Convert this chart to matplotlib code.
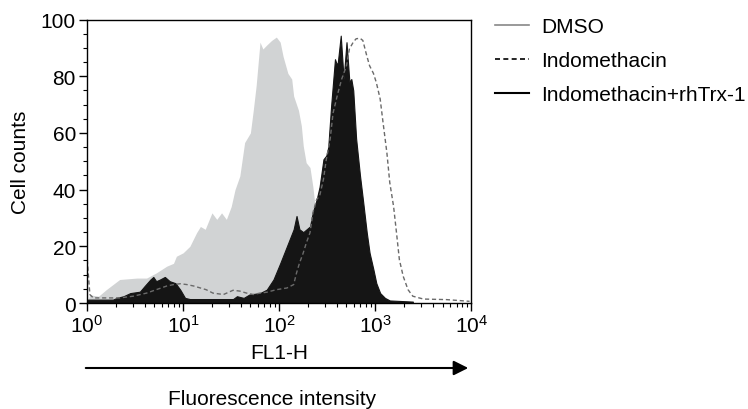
import numpy as np
import matplotlib
matplotlib.use("Agg")
import matplotlib.pyplot as plt
from matplotlib.lines import Line2D
from matplotlib.ticker import LogLocator, MultipleLocator

plt.rcParams['font.family'] = ['Liberation Sans', 'DejaVu Sans']
plt.rcParams['font.size'] = 15

# histogram outlines: log10(FL1-H) and cell counts
dmso_log = [0.0, 0.03, 0.12, 0.20, 0.34, 0.52, 0.62, 0.72, 0.83, 0.90, 0.93, 1.00, 1.07,
            1.14, 1.18, 1.23, 1.30, 1.35, 1.40, 1.45, 1.50, 1.54, 1.59, 1.64, 1.70,
            1.73, 1.76, 1.80, 1.83, 1.87, 1.92, 1.97, 2.01, 2.04, 2.09, 2.13, 2.15,
            2.20, 2.23, 2.25, 2.28, 2.32, 2.35, 2.37, 2.42, 2.49, 2.56]
dmso_cnt = [0.0, 2.9, 2.4, 4.7, 8.3, 8.8, 8.8, 10.6, 13.0, 14.0, 16.5, 17.7, 20.0,
            24.8, 27.0, 26.0, 31.8, 29.5, 31.8, 29.5, 34.0, 40.0, 44.8, 56.6, 60.0,
            68.0, 76.7, 92.0, 89.6, 91.0, 92.6, 93.8, 92.0, 87.0, 81.0, 79.0, 73.0,
            68.0, 62.5, 55.4, 49.5, 47.8, 41.0, 35.0, 25.0, 8.0, 0.0]

indo_log = [0.0, 0.003, 0.03, 0.066, 0.20, 0.34, 0.48, 0.62, 0.72, 0.83, 0.90, 0.97,
            1.04, 1.11, 1.18, 1.24, 1.31, 1.42, 1.52, 1.59, 1.66, 1.73, 1.80, 1.87,
            1.97, 2.08, 2.15, 2.18, 2.21, 2.25, 2.28, 2.32, 2.35, 2.39, 2.42, 2.46,
            2.49, 2.53, 2.56, 2.61, 2.65, 2.70, 2.73, 2.77, 2.80, 2.84, 2.87, 2.91,
            2.94, 2.98, 3.01, 3.05, 3.08, 3.12, 3.15, 3.19, 3.22, 3.25, 3.29, 3.34,
            3.39, 3.50, 3.74, 3.98]
indo_cnt = [0.0, 15.0, 3.0, 1.8, 1.8, 1.8, 2.4, 3.5, 4.7, 6.0, 6.5, 6.8,
            6.5, 6.0, 5.3, 4.7, 3.5, 3.0, 4.5, 4.2, 3.5, 3.0, 3.5, 3.8,
            4.7, 5.3, 6.5, 10.6, 14.0, 17.7, 21.0, 24.8, 31.8, 36.6, 37.7, 43.6,
            50.7, 57.8, 67.0, 74.0, 79.0, 83.7, 89.6, 92.0, 93.2, 93.4, 92.6, 87.3,
            83.7, 81.0, 77.8, 72.0, 63.7, 53.0, 42.5, 34.0, 24.8, 15.3, 9.4, 4.7,
            2.4, 1.4, 1.2, 0.6]

trx_log = [0.0, 0.27, 0.31, 0.38, 0.45, 0.55, 0.60, 0.66, 0.69, 0.72, 0.76, 0.81,
           0.86, 0.92, 0.97, 1.02, 1.07, 1.30, 1.52, 1.56, 1.63, 1.69, 1.80, 1.87,
           1.94, 2.01, 2.08, 2.15, 2.18, 2.21, 2.25, 2.32, 2.35, 2.39, 2.42, 2.46,
           2.49, 2.51, 2.54, 2.58, 2.60, 2.61, 2.64, 2.67, 2.70, 2.73, 2.75, 2.77,
           2.80, 2.84, 2.87, 2.91, 2.94, 2.98, 3.01, 3.05, 3.10, 3.15, 3.39]
trx_cnt = [1.2, 1.2, 1.8, 2.4, 3.5, 4.0, 6.0, 8.3, 9.2, 7.7, 8.3, 9.2,
           7.7, 7.0, 4.7, 1.8, 1.4, 1.4, 1.4, 2.4, 1.8, 3.0, 3.5, 4.7,
           8.3, 14.0, 20.0, 26.0, 30.7, 26.0, 25.0, 27.0, 32.0, 36.6, 41.0, 50.7,
           52.0, 55.0, 69.6, 86.0, 84.0, 85.0, 94.3, 79.0, 92.0, 78.0, 79.0, 75.0,
           58.0, 45.0, 36.6, 25.0, 17.7, 11.8, 7.0, 3.5, 1.8, 0.9, 0.5]

legend_labels = ['DMSO', 'Indomethacin', 'Indomethacin+rhTrx-1']

fig = plt.figure(figsize=(7.48, 4.10), dpi=100)
ax = fig.add_axes([0.1163, 0.2585, 0.514, 0.6915])

ax.fill_between(10 ** np.array(dmso_log), dmso_cnt, 0, color='#d1d3d4', lw=0)
ax.fill_between(10 ** np.array(trx_log), trx_cnt, 0, color='#151515', lw=0.8,
                edgecolor='#151515')
ax.plot(10 ** np.array(indo_log), indo_cnt, color='#6a6a6a', ls=(0, (3, 2)), lw=1)

ax.set_xscale('log')
ax.set_xlim(1, 1e4)
ax.set_ylim(0, 100)
ax.yaxis.set_major_locator(MultipleLocator(20))
ax.yaxis.set_minor_locator(MultipleLocator(5))
ax.xaxis.set_major_locator(LogLocator(base=10))
ax.xaxis.set_minor_locator(LogLocator(base=10, subs=np.arange(2, 10)))
ax.tick_params(which='major', direction='out', length=6, width=1, labelsize=15, pad=2)
ax.tick_params(which='minor', direction='out', length=3, width=0.8)
for s in ax.spines.values():
    s.set_linewidth(1)

ax.set_xlabel('FL1-H', labelpad=5)
ax.set_ylabel('Cell counts', labelpad=8)

handles = [Line2D([], [], color='#888888', lw=1.2),
           Line2D([], [], color='black', ls=(0, (3, 2)), lw=1.2),
           Line2D([], [], color='black', lw=1.5)]
fig.legend(handles, legend_labels, loc='upper left', bbox_to_anchor=(0.662, 0.955),
           frameon=False, fontsize=15, handlelength=1.6, handletextpad=0.6,
           labelspacing=0.72, borderpad=0, borderaxespad=0)

ax.annotate('', xy=(471 / 748, 1 - 369 / 410), xytext=(83 / 748, 1 - 369 / 410),
            xycoords='figure fraction', textcoords='figure fraction',
            arrowprops=dict(arrowstyle='-|>', mutation_scale=22, lw=1.5, color='black'))
fig.text(272 / 748, 1 - 400 / 410, 'Fluorescence intensity', ha='center', va='center',
         fontsize=15)

fig.savefig('out.png', dpi=100)
